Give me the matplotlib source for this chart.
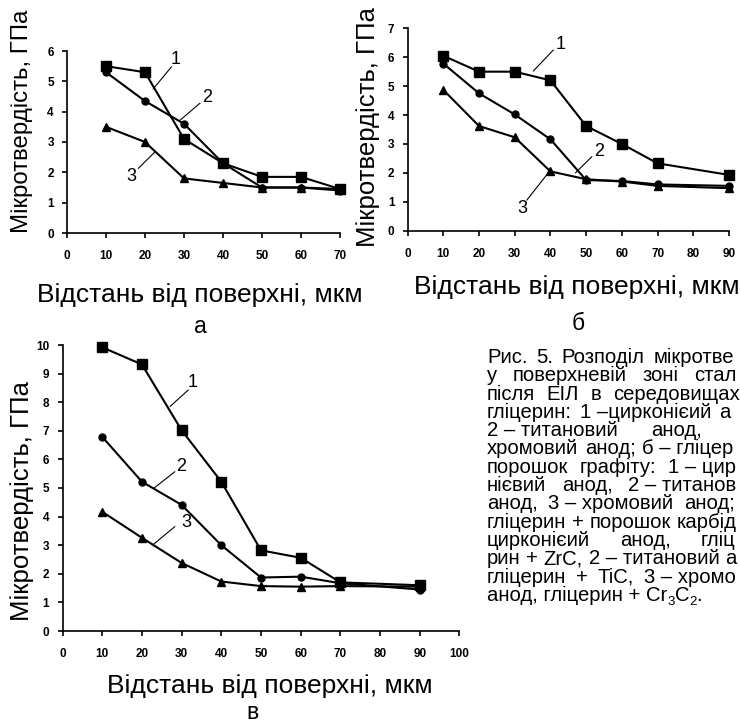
import numpy as np
import matplotlib.pyplot as plt

plt.rcParams['font.family'] = ['Liberation Sans', 'DejaVu Sans']

# --- data ---
# panel a: glycerin
x_a = [10, 20, 30, 40, 50, 60, 70]
a1 = [5.5, 5.3, 3.1, 2.3, 1.85, 1.85, 1.45]
a2 = [5.3, 4.35, 3.6, 2.3, 1.5, 1.5, 1.4]
a3 = [3.5, 3.0, 1.8, 1.65, 1.5, 1.5, 1.45]

# panel б: glycerin + graphite
x_b = [10, 20, 30, 40, 50, 60, 70, 90]
b1 = [6.05, 5.5, 5.5, 5.2, 3.62, 3.0, 2.33, 1.93]
b2 = [5.78, 4.75, 4.02, 3.16, 1.75, 1.72, 1.6, 1.55]
b3 = [4.87, 3.62, 3.23, 2.05, 1.78, 1.7, 1.55, 1.47]

# panel в: glycerin + carbides
x_c = [10, 20, 30, 40, 50, 60, 70, 90]
c1 = [9.92, 9.32, 7.02, 5.22, 2.82, 2.56, 1.7, 1.6]
c2 = [6.79, 5.22, 4.41, 3.0, 1.87, 1.9, 1.67, 1.45]
c3 = [4.17, 3.26, 2.38, 1.73, 1.57, 1.55, 1.57, 1.55]

ylabel = 'Мікротвердість, ГПа'
xlabel = 'Відстань від поверхні, мкм'

# caption lines; the page is cut at the right edge.
# second value = extra pixels added to every stretchable space
NB = '\u00a0'
D = NB + '–'
caption = [
    ('Рис. 5. Розподіл мікротвердості', 3),
    ('у поверхневій зоні сталі', 10),
    ('після ЕІЛ в середовищах:', 6),
    ('гліцерин: 1' + D + 'цирконієий анод,', 2),
    ('2' + D + NB + 'титановий анод, 3' + D, 28),
    ('хромовий анод; б' + D + NB + 'гліцерин +', 1),
    ('порошок графіту: 1' + D + NB + 'цирко-', 6),
    ('нієвий анод, 2' + D + NB + 'титановий', 10),
    ('анод, 3' + D + NB + 'хромовий анод; в' + D, 5),
    ('гліцерин + порошок карбідів: 1' + D, 0),
    ('цирконієий анод, гліце-', 24),
    ('рин + ZrC, 2' + D + NB + 'титановий анод,', 0),
    ('гліцерин + TiC, 3' + D + NB + 'хромовий', 4),
]
# last line, written with subscripts: (piece, is_subscript)
last_line = [('анод, гліцерин + Cr', False), ('3', True), ('C', False),
             ('2', True), ('.', False)]

W, H = 740, 723
fig = plt.figure(figsize=(W / 100, H / 100), dpi=100)


def box(l, t, r, b):
    # pixel box -> figure fraction
    return [l / W, 1 - b / H, (r - l) / W, (b - t) / H]


def style(ax, xmax, xstep, ymax):
    ax.set_xlim(0, xmax)
    ax.set_ylim(0, ymax)
    ax.set_xticks(np.arange(0, xmax + 1, xstep))
    ax.set_yticks(np.arange(0, ymax + 1, 1))
    for s in ['top', 'right']:
        ax.spines[s].set_visible(False)
    for s in ['left', 'bottom']:
        ax.spines[s].set_linewidth(1.2)
    ax.tick_params(direction='out', length=3.5, width=1.2)
    ax.tick_params(axis='x', pad=9)
    ax.tick_params(axis='y', pad=6)
    for lab in ax.get_xticklabels() + ax.get_yticklabels():
        lab.set_fontweight('bold')
        lab.set_fontsize(8.5)
    ax.patch.set_alpha(0)


def curves(ax, x, s1, s2, s3):
    kw = dict(color='black', lw=1.5, clip_on=False)
    ax.plot(x, s1, marker='s', ms=6.5, **kw)
    ax.plot(x, s2, marker='o', ms=5, **kw)
    ax.plot(x, s3, marker='^', ms=6, **kw)


def tag(ax, txt, pos, start, end):
    ax.text(pos[0], pos[1], txt, fontsize=13, ha='center', va='center')
    ax.annotate('', xy=end, xytext=start,
                arrowprops=dict(arrowstyle='-', lw=0.8, color='black',
                                shrinkA=0, shrinkB=0))


# panel a
ax_a = fig.add_axes(box(67, 51, 340, 233))
curves(ax_a, x_a, a1, a2, a3)
style(ax_a, 70, 10, 6)
tag(ax_a, '1', (27.9, 5.72), (26.8, 5.48), (22.1, 4.75))
tag(ax_a, '2', (36.0, 4.46), (34.1, 4.28), (29.0, 3.72))
tag(ax_a, '3', (16.4, 1.86), (18.3, 2.13), (22.6, 2.68))

# panel б
ax_b = fig.add_axes(box(407.6, 28.3, 729, 230.7))
curves(ax_b, x_b, b1, b2, b3)
style(ax_b, 90, 10, 7)
tag(ax_b, '1', (42.9, 6.45), (40.8, 6.25), (35.2, 5.52))
tag(ax_b, '2', (53.6, 2.75), (51.6, 2.56), (47.0, 2.0))
tag(ax_b, '3', (32.2, 0.78), (33.4, 1.06), (39.9, 2.08))

# panel в
ax_c = fig.add_axes(box(62.5, 345, 459.5, 631))
curves(ax_c, x_c, c1, c2, c3)
style(ax_c, 100, 10, 10)
tag(ax_c, '1', (32.7, 8.68), (31.7, 8.43), (27.1, 7.85))
tag(ax_c, '2', (29.8, 5.76), (28.3, 5.57), (23.0, 4.99))
tag(ax_c, '3', (31.1, 3.79), (28.3, 3.65), (23.0, 3.04))

# axis titles placed in pixel positions
fig.text(22 / W, 1 - 121 / H, ylabel, rotation=90, fontsize=17.3,
         ha='center', va='center')
fig.text(368 / W, 1 - 127 / H, ylabel, rotation=90, fontsize=18.5,
         ha='center', va='center')
fig.text(22 / W, 1 - 501 / H, ylabel, rotation=90, fontsize=18.5,
         ha='center', va='center')

lab_kw = dict(fontsize=19, ha='center', va='center')
fig.text(200 / W, 1 - 295 / H, xlabel, **lab_kw)
fig.text(577 / W, 1 - 287 / H, xlabel, **lab_kw)
fig.text(270 / W, 1 - 686 / H, xlabel, **lab_kw)

sub_kw = dict(fontsize=16.5, ha='center', va='baseline')
fig.text(200 / W, 1 - 333 / H, 'а', **sub_kw)
fig.text(578 / W, 1 - 330 / H, 'б', **sub_kw)
fig.text(252 / W, 1 - 719 / H, 'в', **sub_kw)

# caption block: words set one by one, whatever runs past the page edge
# is cut off like in the scanned page
renderer = fig.canvas.get_renderer()
cap_kw = dict(fontsize=14.6, ha='left', va='baseline')
x0, x_edge, lead = 487, 740, 18.3


def width(t):
    return t.get_window_extent(renderer).width


probe = [fig.text(0, 0, 'a a', **cap_kw), fig.text(0, 0, 'a', **cap_kw)]
space = width(probe[0]) - 2 * width(probe[1])
for t in probe:
    t.remove()

for i, (line, extra) in enumerate(caption):
    y = 1 - (363 + i * lead) / H
    x = x0
    for w in line.split(' '):
        t = fig.text(x / W, y, w, **cap_kw)
        wd = width(t)
        while x + wd > x_edge and len(w) > 1:
            w = w[:-1]
            t.set_text(w)
            wd = width(t)
        if x + wd > x_edge:
            t.remove()
            break
        x += wd + space + extra

# last line with the carbide formula
y_base = 363 + len(caption) * lead
x = x0
for piece, is_sub in last_line:
    if is_sub:
        t = fig.text(x / W, 1 - (y_base + 4) / H, piece, fontsize=9.5,
                     ha='left', va='baseline')
    else:
        t = fig.text(x / W, 1 - y_base / H, piece, **cap_kw)
    x += width(t)

fig.savefig('out.png', dpi=100)
